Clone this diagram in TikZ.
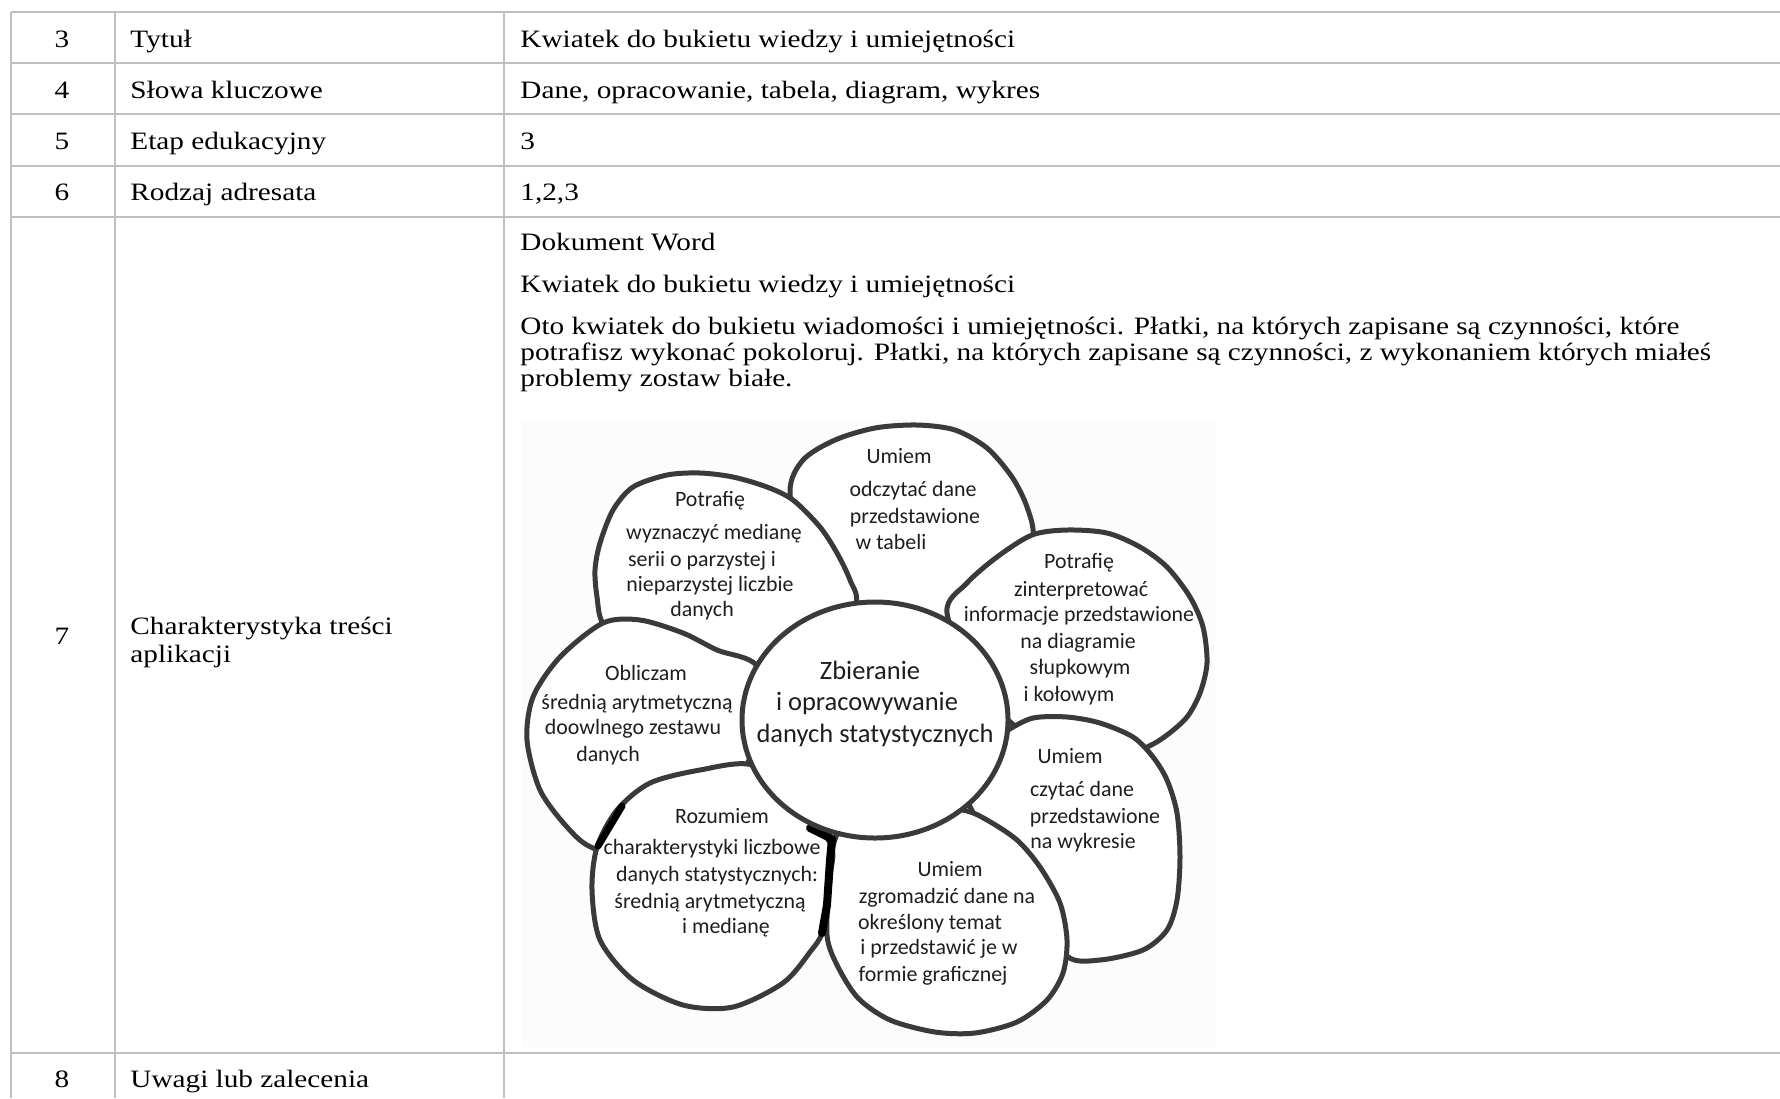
\documentclass[tikz,border=0pt]{standalone}
\usepackage{fontspec}
\setmainfont{Liberation Serif}
\newfontfamily\tabfont[FakeStretch=1.17]{Liberation Serif}
\newfontfamily\petalfont{Carlito}
\usetikzlibrary{positioning}
\definecolor{tgray}{HTML}{BFBFBF}
\definecolor{pdark}{HTML}{3A3A3A}
\definecolor{ptext}{HTML}{1E1E1E}
\definecolor{picbg}{HTML}{FCFCFC}

\begin{document}
\begin{tikzpicture}[x=0.5pt,y=-0.5pt,
    grid/.style={draw=tgray,line width=1pt},
    cell/.style={font=\tabfont\fontsize{12.5}{13.5}\selectfont,
                 inner sep=0pt,anchor=base west},
    num/.style={cell,anchor=base},
    petal/.style={fill=white,draw=pdark,line width=2.5pt,line join=round},
    seam/.style={draw=black,line width=4pt,line join=round,line cap=round},
    ptxt/.style={font=\petalfont\fontsize{10.95}{13}\selectfont,
                 text=ptext,inner sep=0pt,anchor=base},
    ctxt/.style={ptxt,font=\petalfont\fontsize{13.25}{16}\selectfont}
  ]
  \useasboundingbox (0,0) rectangle (1780,1098);

  % Table rules
  \foreach \y in {12,63,114,165.5,217,1053}
    \draw[grid] (11,\y) -- (1780,\y);
  \foreach \x in {11,115,504}
    \draw[grid] (\x,12) -- (\x,1098);

  % Rows 3-6
  \foreach \n/\lab/\y in {3/Tytuł/47, 4/Słowa kluczowe/98,
                          5/Etap edukacyjny/149, 6/Rodzaj adresata/200}{
    \node[num]  (n\n)   at (62,\y)  {\n};
    \node[cell] (lab\n) at (130,\y) {\lab};
  }
  \node[cell] (val3) at (520,47)  {Kwiatek do bukietu wiedzy i umiejętności};
  \node[cell] (val4) at (520,98)  {Dane, opracowanie, tabela, diagram, wykres};
  \node[cell] (val5) at (520,149) {3};
  \node[cell] (val6) at (520,200) {1,2,3};

  % Row 7
  \node[num]  (n7)    at (62,644)  {7};
  \node[cell] (lab7)  at (130,634) {Charakterystyka treści};
  \node[cell] (lab7b) at (130,662) {aplikacji};
  \node[cell] (doc)   at (520,250) {Dokument Word};
  \node[cell] (ttl)   at (520,292) {Kwiatek do bukietu wiedzy i umiejętności};
  \node[cell] (par1)  at (520,334) {Oto kwiatek do bukietu wiadomości i umiejętności. Płatki, na których zapisane są czynności, które};
  \node[cell] (par2)  at (520,360) {potrafisz wykonać pokoloruj. Płatki, na których zapisane są czynności, z wykonaniem których miałeś};
  \node[cell] (par3)  at (520,386) {problemy zostaw białe.};

  % Row 8
  \node[num]  (n8)   at (62,1087)  {8};
  \node[cell] (lab8) at (130,1087) {Uwagi lub zalecenia};

  % Flower
  \fill[picbg] (522,420) rectangle (1215,1047);

  % petals, back to front
  \draw[petal] plot[smooth cycle] coordinates {
    (790,492) (803,460) (835,440) (875,428) (917,425) (955,430) (987,448)
    (1012,477) (1027,507) (1033,540) (1015,600) (950,645) (860,630) (805,560)};
  \draw[petal] plot[smooth cycle] coordinates {
    (947,613) (967,583) (997,557) (1032,535) (1067,530) (1107,533) (1140,547)
    (1167,567) (1190,597) (1203,627) (1207,663) (1200,693) (1187,717)
    (1167,735) (1147,747) (1100,765) (1040,745) (980,690)};
  \draw[petal] plot[smooth cycle] coordinates {
    (603,623) (597,597) (595,570) (600,543) (613,510) (633,487) (667,475)
    (700,473) (733,477) (767,487) (793,500) (820,527) (837,553) (850,580)
    (856,605) (830,665) (760,690) (680,652) (630,635)};
  \draw[petal] plot[smooth cycle] coordinates {
    (1008,730) (1033,718) (1067,717) (1100,723) (1133,737) (1153,757)
    (1167,780) (1177,813) (1180,857) (1177,900) (1167,930) (1143,950)
    (1100,960) (1067,956) (1040,905) (990,840) (965,790) (985,745)};
  \draw[petal] plot[smooth cycle] coordinates {
    (757,666) (717,650) (683,633) (640,620) (603,623) (560,657) (533,697)
    (527,740) (540,790) (567,827) (593,848) (650,860) (730,790) (765,720)};
  \draw[petal] plot[smooth cycle] coordinates {
    (963,810) (987,820) (1017,840) (1040,867) (1060,903) (1067,940)
    (1063,973) (1047,1000) (1017,1022) (975,1033) (935,1032) (890,1020)
    (858,998) (837,965) (827,935) (830,880) (840,830) (900,800)};
  \draw[petal] plot[smooth cycle] coordinates {
    (752,765) (700,770) (650,783) (617,810) (597,847) (592,890) (600,940)
    (633,980) (683,1005) (733,1007) (783,983) (810,952) (823,930)
    (829,880) (831,845) (795,800)};
  \draw[seam] (810,828) -- (832,839) -- (830,860) -- (827,905) -- (822,933);
  \draw[seam,line width=3.5pt] (622,806) -- (598,846);

  % heart of the flower
  \draw[petal] (875,720) ellipse [x radius=133, y radius=118];

  % petal texts
  \foreach \x/\y/\t [count=\i] in {899/463/Umiem, 913/496/odczytać dane,
      915/523/przedstawione, 891/549/w tabeli}
    \node[ptxt] (odc\i) at (\x,\y) {\t};
  \foreach \x/\y/\t [count=\i] in {710/506/Potrafię, 714/539/wyznaczyć medianę,
      702/566/serii o parzystej i, 710/591/nieparzystej liczbie, 702/616/danych}
    \node[ptxt] (pot\i) at (\x,\y) {\t};
  \foreach \x/\y/\t [count=\i] in {1079/568/Potrafię, 1081/596/zinterpretować,
      1079/621/informacje przedstawione, 1078/648/na diagramie,
      1080/674/słupkowym, 1069/701/i kołowym}
    \node[ptxt] (int\i) at (\x,\y) {\t};
  \foreach \x/\y/\t [count=\i] in {646/680/Obliczam, 637/709/średnią arytmetyczną,
      633/734/doowlnego zestawu, 608/761/danych}
    \node[ptxt] (obl\i) at (\x,\y) {\t};
  \foreach \x/\y/\t [count=\i] in {1070/763/Umiem, 1082/796/czytać dane,
      1095/823/przedstawione, 1083/848/na wykresie}
    \node[ptxt] (czy\i) at (\x,\y) {\t};
  \foreach \x/\y/\t [count=\i] in {722/823/Rozumiem, 712/854/charakterystyki liczbowe,
      717/881/danych statystycznych:, 710/908/średnią arytmetyczną,
      726/933/i medianę}
    \node[ptxt] (roz\i) at (\x,\y) {\t};
  \foreach \x/\y/\t [count=\i] in {950/876/Umiem, 947/903/zgromadzić dane na,
      930/929/określony temat, 939/954/i przedstawić je w,
      933/981/formie graficznej}
    \node[ptxt] (zgr\i) at (\x,\y) {\t};
  \foreach \x/\y/\t [count=\i] in {870/679/Zbieranie, 867/710/i opracowywanie,
      875/742/danych statystycznych}
    \node[ctxt] (cen\i) at (\x,\y) {\t};

\end{tikzpicture}
\end{document}
